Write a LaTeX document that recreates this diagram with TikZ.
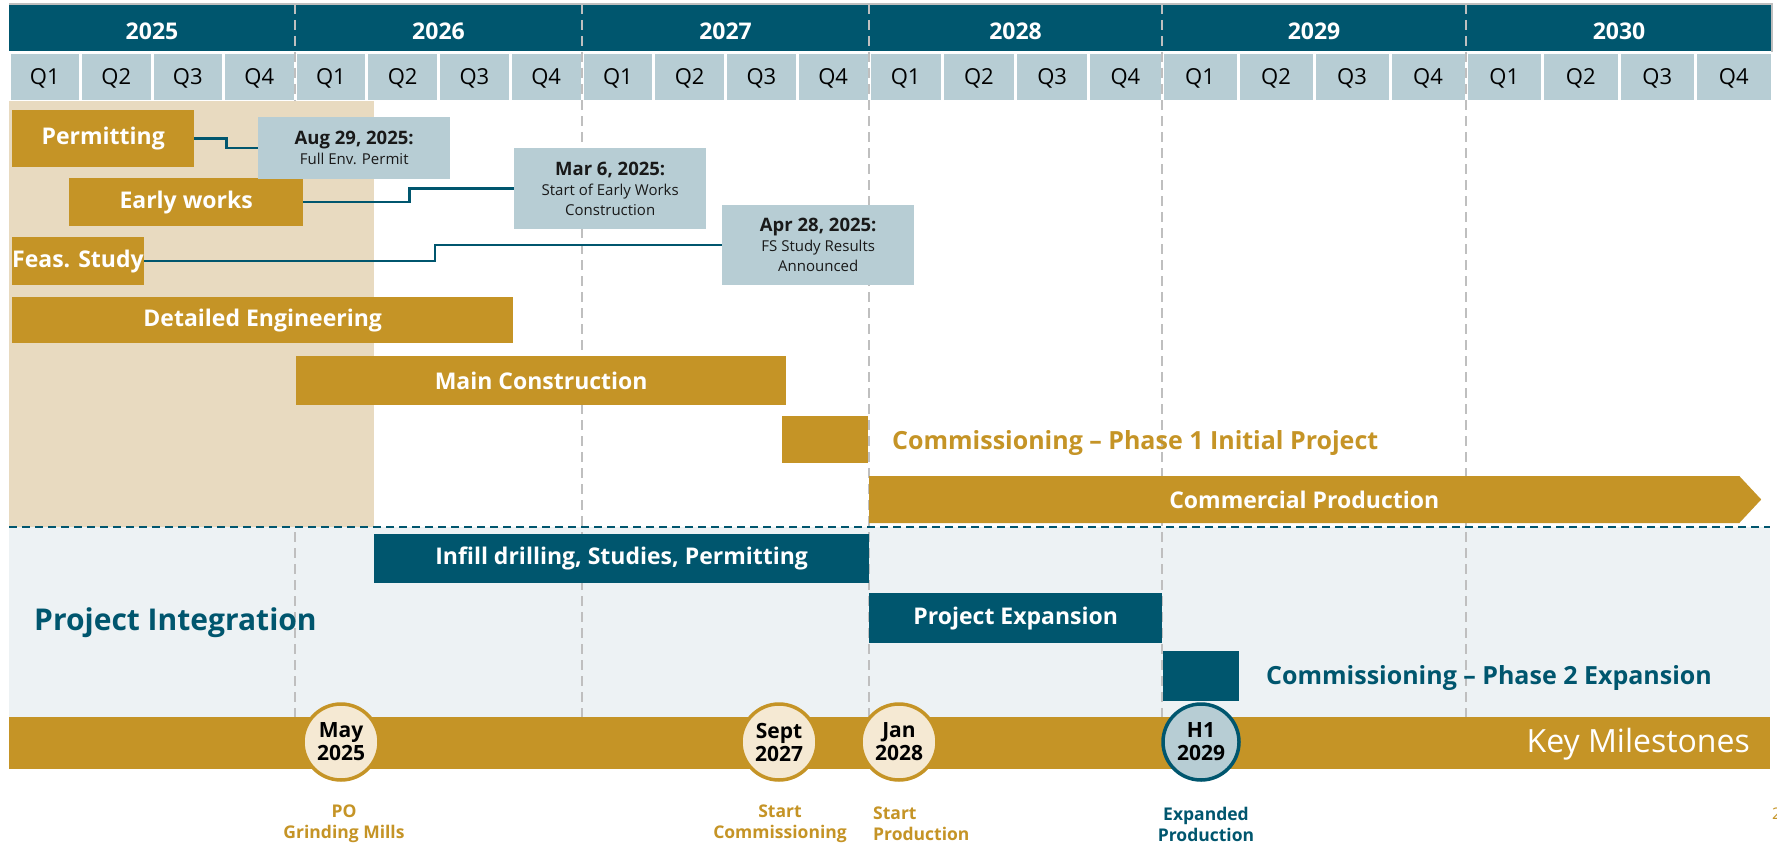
\documentclass[tikz,border=0pt]{standalone}
\usepackage{fontspec}
\setmainfont{Open Sans}
\usetikzlibrary{shapes.symbols}
\definecolor{deepteal}{HTML}{00566E}
\definecolor{qblue}{HTML}{B7CDD4}
\definecolor{gold}{HTML}{C59426}
\definecolor{sand}{HTML}{E8DAC0}
\definecolor{paleblue}{HTML}{EDF2F4}
\definecolor{cream}{HTML}{F5E9D3}
\definecolor{gridgray}{HTML}{BFBFBF}
\newcommand{\datehead}[1]{{\fontsize{18.5}{20}\selectfont\bfseries #1}}
\tikzset{
  year/.style={text=white, font=\fontsize{23}{26}\selectfont\bfseries},
  qcell/.style={fill=qblue, draw=white, line width=3pt},
  quarter/.style={font=\fontsize{22}{26}\selectfont},
  gridline/.style={gridgray, line width=2pt, dash pattern=on 10pt off 6pt},
  bar/.style={anchor=north west, inner sep=0pt, text=white, font=\fontsize{23}{26}\selectfont\bfseries},
  goldbar/.style={bar, fill=gold},
  tealbar/.style={bar, fill=deepteal},
  datebox/.style={anchor=north west, fill=qblue, align=center, inner sep=0pt, minimum width=192pt, text=black!90, font=\fontsize{15}{20}\selectfont},
  link/.style={draw=deepteal, line width=2.5pt},
  bigtext/.style={anchor=west, inner sep=0pt, font=\fontsize{25}{28}\selectfont\bfseries},
  milestone/.style={circle, fill=cream, draw=gold, line width=3.5pt, minimum size=76pt, inner sep=0pt, align=center, font=\fontsize{21}{23}\selectfont\bfseries},
  caption/.style={align=center, inner sep=0pt, font=\fontsize{17.5}{21}\selectfont\bfseries},
}
\begin{document}
\begin{tikzpicture}[x=1pt,y=-1pt]
\useasboundingbox (0,0) rectangle (1777,843);
\fill[white] (0,0) rectangle (1777,843);
% Backgrounds
\fill[paleblue] (9,527) rectangle (1770,717);
% Header with years and quarters
\fill[deepteal] (9,5) rectangle (1772,52);
\foreach \yr/\xa/\xb in {2025/9/295, 2026/295/582, 2027/582/869, 2028/869/1162, 2029/1162/1466, 2030/1466/1772} {
  \node[year] (y\yr) at ({(\xa+\xb)/2},31) {\yr};
  \foreach \q in {1,...,4} {
    \pgfmathsetmacro{\qa}{\xa+(\q-1)*(\xb-\xa)/4}
    \pgfmathsetmacro{\qb}{\xa+\q*(\xb-\xa)/4}
    \draw[qcell] (\qa,53) rectangle (\qb,101);
    \node[quarter] (q\yr\q) at ({(\qa+\qb)/2},78) {Q\q};
  }
}
\draw[gridgray, line width=1.2pt] (9,4) -- (1772,4) -- (1772,52);
% Year grid
\foreach \x in {295,582,869,1162,1466}
  \draw[gridline] (\x,4) -- (\x,717);
\fill[sand] (9,101) rectangle (374,527);
\draw[deepteal, line width=2.5pt, dash pattern=on 8pt off 5pt] (9,527) -- (1770,527);
% Initial project bars
\node[goldbar, minimum width=182pt, minimum height=57pt] (permit) at (12,110) {Permitting};
\node[goldbar, minimum width=234pt, minimum height=48pt] (early) at (69,178) {Early works};
\node[goldbar, minimum width=129pt, minimum height=48pt] (feas) at (12,237) {Feas. Study};
\node[goldbar, minimum width=501pt, minimum height=46pt] (detail) at (12,297) {Detailed Engineering};
\node[goldbar, minimum width=490pt, minimum height=49pt] (mainc) at (296,356) {Main Construction};
\node[goldbar, minimum width=86pt, minimum height=47pt] (comm1) at (782,416) {};
\node[bigtext, text=gold] (comm1txt) at (892,443) {Commissioning – Phase 1 Initial Project};
\node[signal, signal to=east, signal pointer angle=94, fill=gold, minimum width=892pt, minimum height=47pt,
  inner sep=0pt, anchor=west, text=white, font=\fontsize{23}{26}\selectfont\bfseries] (commprod) at (869,499.5) {Commercial Production};
% Date boxes
\node[datebox, minimum height=62pt] (augbox) at (258,117) {\datehead{Aug 29, 2025:}\\Full Env. Permit};
\node[datebox, minimum height=81pt] (marbox) at (514,148) {\datehead{Mar 6, 2025:}\\Start of Early Works\\Construction};
\node[datebox, minimum height=80pt] (aprbox) at (722,205) {\datehead{Apr 28, 2025:}\\FS Study Results\\Announced};
\draw[link] (permit.east) -- ++(32,0) |- (augbox.west);
\draw[link] (early.east) -- ++(106,0) |- (marbox.west);
\draw[link] (feas.east) -- ++(291,0) |- (aprbox.west);
% Project integration
\node[bigtext, text=deepteal, font=\fontsize{30}{34}\selectfont\bfseries] (integ) at (34,623) {Project Integration};
\node[tealbar, minimum width=495pt, minimum height=49pt] (infill) at (374,534) {Infill drilling, Studies, Permitting};
\node[tealbar, minimum width=293pt, minimum height=50pt] (expand) at (869,593) {Project Expansion};
\node[tealbar, minimum width=76pt, minimum height=50pt] (comm2) at (1163,651) {};
\node[bigtext, text=deepteal] (comm2txt) at (1266,678) {Commissioning – Phase 2 Expansion};
% Key milestones
\fill[gold] (9,717) rectangle (1770,769);
\node[anchor=east, inner sep=0pt, text=white, font=\fontsize{32}{36}\selectfont] (keyms) at (1750,744) {Key Milestones};
\node[milestone] (may25) at (341,742) {May\\2025};
\node[milestone] (sep27) at (779,742) {Sept\\2027};
\node[milestone] (jan28) at (899,742) {Jan\\2028};
\node[milestone, fill=qblue, draw=deepteal] (h129) at (1201,742) {H1\\2029};
\node[caption, text=gold] (pocap) at (344,824) {PO\\Grinding Mills};
\node[caption, text=gold] (sepcap) at (780,824) {Start\\Commissioning};
\node[caption, text=gold, align=left, anchor=west] (jancap) at (873,824) {Start\\Production};
\node[caption, text=deepteal] (h1cap) at (1206,824) {Expanded\\Production};
\node[anchor=west, inner sep=0pt, text=gold, font=\fontsize{16}{18}\selectfont] (pagenum) at (1772,814) {2};
\end{tikzpicture}
\end{document}
